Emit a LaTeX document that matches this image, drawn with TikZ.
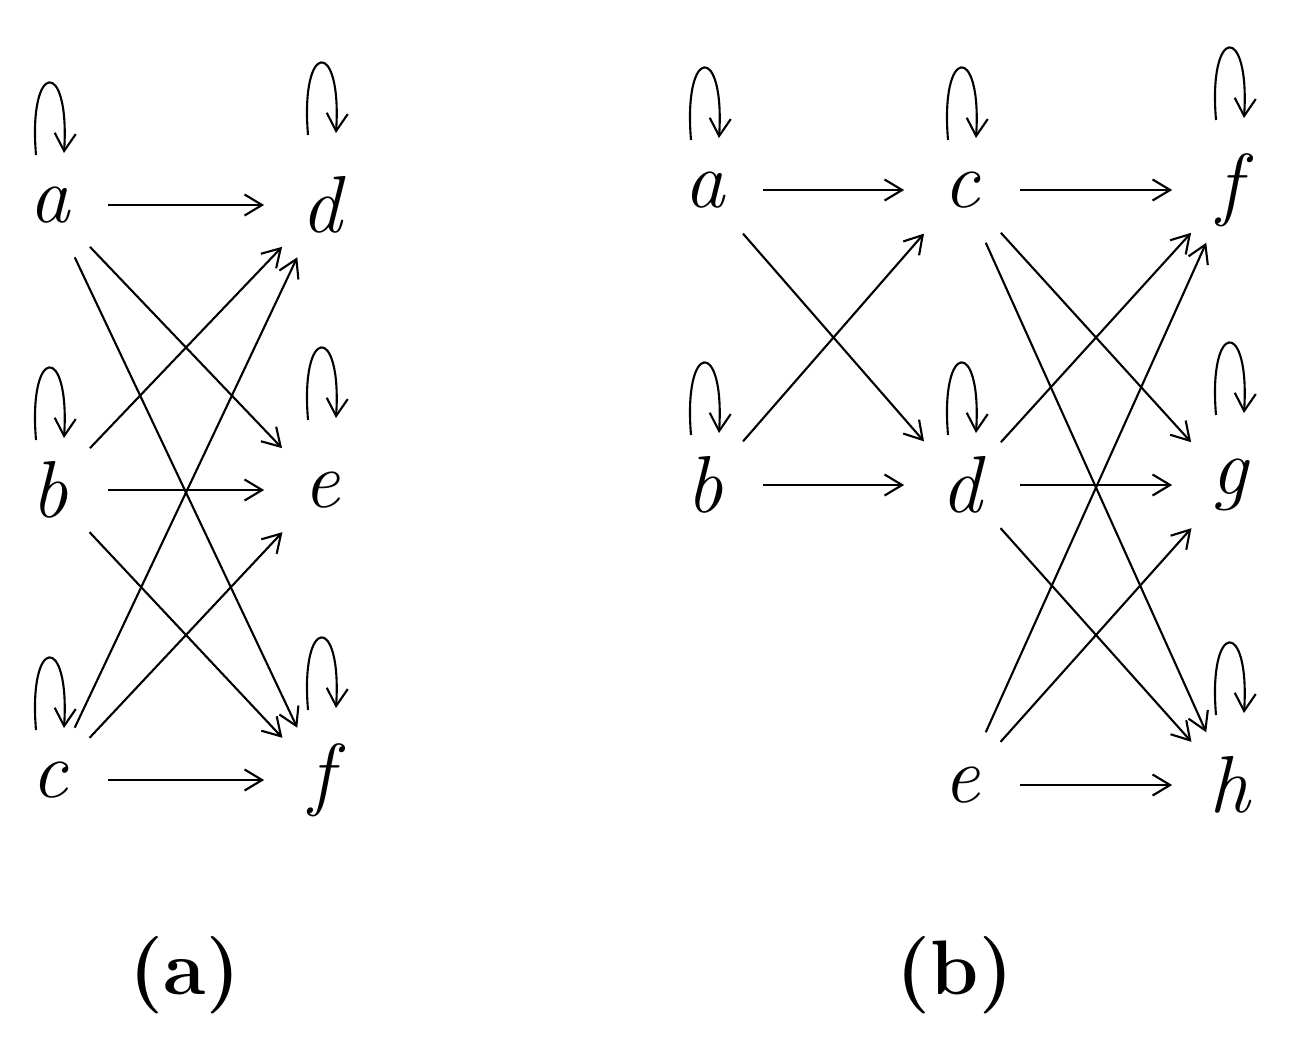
\documentclass[tikz,border=0pt]{standalone}
\usetikzlibrary{arrows.meta}
\begin{document}
\begin{tikzpicture}[x=0.02cm,y=-0.02cm,
  vert/.style={circle,minimum size=2.3cm,inner sep=0pt,font=\fontsize{46}{50}\selectfont\itshape},
  edge/.style={-{Straight Barb[length=10pt,width=12pt]},line width=1.2pt},
  sub/.style={font=\fontsize{44}{50}\selectfont\bfseries}]
\useasboundingbox (0,0) rectangle (1302,1048);
\fill[white] (0,0) rectangle (1302,1048);
\newcommand{\lp}[2]{\draw[edge] (#1) ++(-14,#2) .. controls +(-8,-95) and +(6,-95) .. +(28,-2);}
% (a)
\node[vert] (a) at (50,205) {a};
\node[vert] (b) at (50,490) {b};
\node[vert] (c) at (50,780) {c};
\node[vert] (d) at (322,205) {d};
\node[vert] (e) at (322,490) {e};
\node[vert] (f) at (322,780) {f};
\foreach \s/\t in {a/d,a/e,a/f,b/d,b/e,b/f,c/d,c/e,c/f}{\draw[edge] (\s) -- (\t);}
\foreach \n in {a,b,c}{\lp{\n}{-50}}
\foreach \n in {d,e,f}{\lp{\n}{-70}}
\node[sub] (la) at (185,975) {(a)};
% (b)
\node[vert] (ba) at (705,190) {a};
\node[vert] (bb) at (705,485) {b};
\node[vert] (bc) at (962,190) {c};
\node[vert] (bd) at (962,485) {d};
\node[vert] (be) at (962,785) {e};
\node[vert] (bf) at (1230,190) {f};
\node[vert] (bg) at (1230,485) {g};
\node[vert] (bh) at (1230,785) {h};
\foreach \s/\t in {ba/bc,ba/bd,bb/bc,bb/bd,bc/bf,bc/bg,bc/bh,bd/bf,bd/bg,bd/bh,be/bf,be/bg,be/bh}{\draw[edge] (\s) -- (\t);}
\foreach \n in {ba,bb,bc,bd}{\lp{\n}{-50}}
\foreach \n in {bf,bg,bh}{\lp{\n}{-70}}
\node[sub] (lb) at (955,975) {(b)};
\end{tikzpicture}
\end{document}
